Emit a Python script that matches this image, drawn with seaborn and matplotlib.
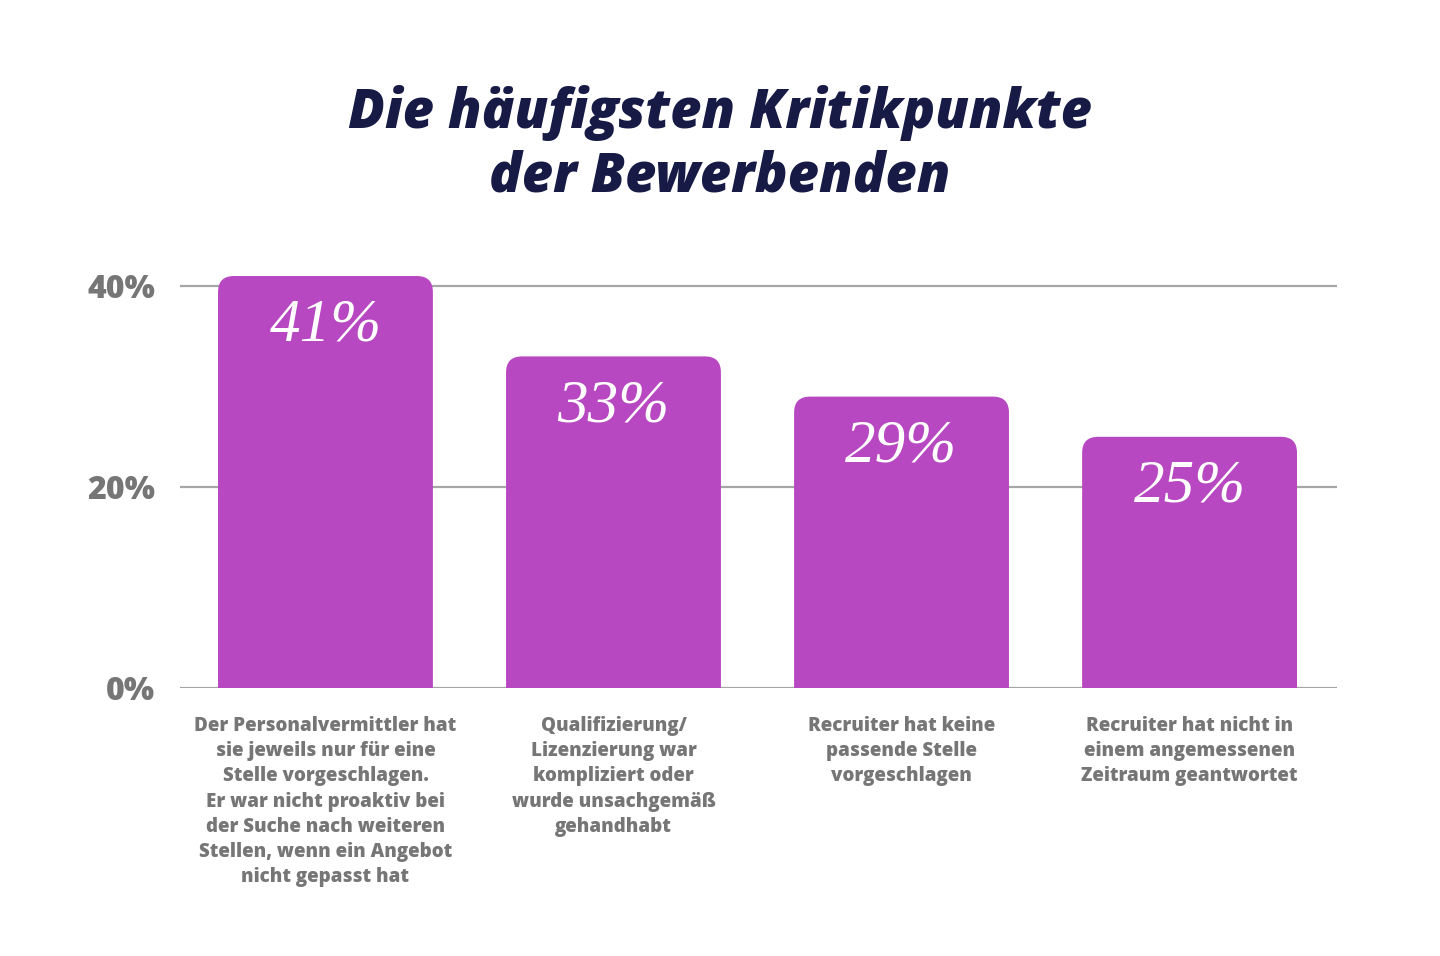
import matplotlib
matplotlib.use('Agg')
import matplotlib.pyplot as plt
from matplotlib.patches import FancyBboxPatch
import numpy as np
import pandas as pd
import seaborn as sns

title = "Die häufigsten Kritikpunkte\nder Bewerbenden"
categories = [
    "Der Personalvermittler hat\nsie jeweils nur für eine\nStelle vorgeschlagen.\nEr war nicht proaktiv bei\nder Suche nach weiteren\nStellen, wenn ein Angebot\nnicht gepasst hat",
    "Qualifizierung/\nLizenzierung war\nkompliziert oder\nwurde unsachgemäß\ngehandhabt",
    "Recruiter hat keine\npassende Stelle\nvorgeschlagen",
    "Recruiter hat nicht in\neinem angemessenen\nZeitraum geantwortet",
]
values = [41, 33, 29, 25]
yticks = [0, 20, 40]
ytick_labels = ["0%", "20%", "40%"]

BAR = "#b848c1"
NAVY = "#161a45"
GRAY = "#767676"
GRID = "#a6a6a6"

sns.set_style("white")
plt.rcParams['font.family'] = ['Open Sans', 'DejaVu Sans']

df = pd.DataFrame({"cat": categories, "val": values})

fig = plt.figure(figsize=(14.4, 9.56), dpi=100)
ax = fig.add_axes([0.125, 0.2803, 0.8035, 0.4415])

sns.barplot(data=df, x="cat", y="val", color=BAR, width=0.746, saturation=1, ax=ax)
ax.set_xlim(-0.505, 3.512)
ax.set_ylim(0, 42)

# swap the plain bars for ones with rounded top corners
fig.canvas.draw()
bb = ax.get_window_extent()
px_x = (ax.get_xlim()[1] - ax.get_xlim()[0]) / bb.width
px_y = (ax.get_ylim()[1] - ax.get_ylim()[0]) / bb.height
r_px = 16
for p in list(ax.patches):
    x0, w, h = p.get_x(), p.get_width(), p.get_height()
    p.set_visible(False)
    fb = FancyBboxPatch((x0, -5), w, h + 5,
                        boxstyle=f"round,pad=0,rounding_size={r_px * px_x}",
                        mutation_aspect=px_y / px_x,
                        facecolor=BAR, edgecolor='none', zorder=3, clip_on=True)
    ax.add_patch(fb)
    ax.annotate(f"{int(h)}%", (x0 + w / 2, h), xytext=(0, -36), textcoords='offset points',
                ha='center', va='center', color='white', fontsize=44,
                fontstyle='italic', family=['Liberation Serif', 'DejaVu Serif'], zorder=4)

ax.set_yticks(yticks)
ax.set_yticklabels(ytick_labels)
ax.yaxis.grid(True, color=GRID, linewidth=1.6, zorder=0)
ax.set_axisbelow(True)
ax.tick_params(axis='y', length=0, pad=18, labelsize=23, labelcolor=GRAY)
for t in ax.get_yticklabels():
    t.set_fontweight('heavy')
ax.tick_params(axis='x', length=0, pad=20, labelsize=13.5, labelcolor=GRAY)
for t in ax.get_xticklabels():
    t.set_fontweight('heavy')
    t.set_linespacing(1.35)
    t.set_va('top')
ax.set_xlabel("")
ax.set_ylabel("")
for s in ax.spines.values():
    s.set_visible(False)

fig.text(0.5, 0.849, title, ha='center', va='center', fontsize=39, fontweight='heavy',
         fontstyle='italic', color=NAVY, linespacing=1.2)

fig.savefig("out.png", dpi=100, facecolor='white')
plt.close(fig)
